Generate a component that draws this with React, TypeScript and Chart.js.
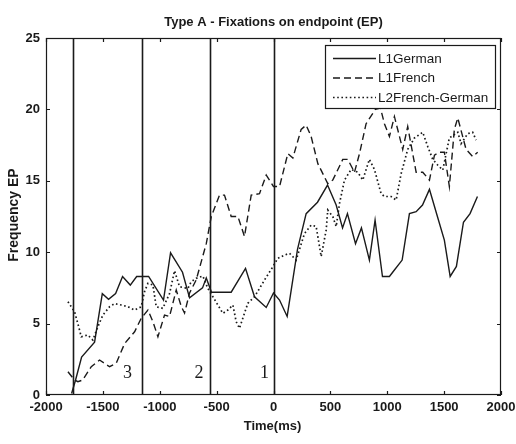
import React, { useEffect, useRef } from "react";
import { Chart, registerables } from "chart.js";

Chart.register(...registerables);

const chartTitle = "Type A - Fixations on endpoint (EP)";
const xAxisTitle = "Time(ms)";
const yAxisTitle = "Frequency EP";
const seriesNames = ["L1German", "L1French", "L2French-German"];

const germanTime = [-1775, -1740, -1687, -1573, -1505, -1450, -1388, -1327, -1259, -1203, -1098, -967, -905, -800, -738, -624, -591, -545, -372, -246, -167, -64, 0, 53, 120, 211, 287, 387, 475, 551, 607, 650, 721, 773, 843, 893, 958, 1019, 1063, 1131, 1195, 1254, 1310, 1371, 1441, 1502, 1553, 1608, 1670, 1728, 1793];
const germanFreq = [0.1, 1.05, 2.66, 3.7, 7.1, 6.7, 7.1, 8.3, 7.7, 8.3, 8.3, 6.65, 9.96, 8.6, 6.8, 7.5, 8.2, 7.2, 7.2, 8.87, 6.88, 6.13, 7.14, 6.65, 5.5, 10.2, 12.7, 13.5, 14.7, 13.3, 11.7, 12.7, 10.6, 11.7, 9.45, 12.25, 8.3, 8.3, 8.75, 9.45, 12.7, 12.84, 13.3, 14.4, 12.5, 10.85, 8.3, 9.0, 12.1, 12.7, 13.9];

const frenchTime = [-1807, -1749, -1720, -1678, -1602, -1529, -1441, -1382, -1309, -1221, -1163, -1104, -1060, -1016, -958, -914, -855, -811, -782, -738, -680, -591, -547, -475, -431, -372, -313, -255, -196, -123, -64, 0, 53, 126, 170, 243, 287, 331, 390, 477, 521, 609, 653, 712, 756, 814, 895, 940, 975, 1019, 1063, 1136, 1180, 1254, 1312, 1371, 1415, 1459, 1502, 1546, 1590, 1620, 1693, 1751, 1795];
const frenchFreq = [1.63, 1.05, 0.93, 1.05, 1.98, 2.45, 1.98, 2.24, 3.6, 4.43, 5.37, 5.95, 5.13, 4.08, 5.6, 5.5, 7.35, 6.2, 5.74, 7.14, 8.05, 10.6, 12.5, 14.0, 14.0, 12.5, 12.5, 11.1, 14.0, 14.1, 15.4, 14.6, 14.6, 16.9, 16.6, 18.6, 18.9, 18.1, 16.2, 14.8, 15.05, 16.5, 16.5, 15.6, 16.9, 19.0, 20.0, 20.1, 19.0, 18.1, 19.5, 17.2, 18.8, 15.6, 15.6, 15.05, 16.8, 17.0, 17.0, 14.6, 18.6, 19.4, 17.2, 16.7, 17.0];

const bilingualTime = [-1807, -1749, -1720, -1690, -1632, -1588, -1544, -1500, -1441, -1397, -1338, -1280, -1221, -1163, -1134, -1104, -1060, -1031, -973, -914, -870, -826, -753, -724, -680, -621, -577, -533, -445, -401, -357, -328, -299, -226, -167, -79, -6, 38, 97, 141, 199, 272, 331, 375, 419, 463, 477, 521, 551, 580, 624, 683, 741, 785, 843, 887, 946, 975, 1034, 1078, 1122, 1180, 1239, 1312, 1356, 1400, 1444, 1488, 1546, 1620, 1649, 1707, 1751, 1781];
const bilingualFreq = [6.53, 5.83, 5.0, 4.08, 4.2, 3.85, 4.78, 5.6, 6.18, 6.4, 6.3, 6.18, 5.95, 6.18, 7.23, 7.82, 7.7, 6.18, 6.07, 7.1, 8.7, 7.58, 7.46, 7.93, 8.17, 8.33, 7.46, 6.88, 5.72, 5.95, 6.3, 5.13, 4.67, 6.42, 6.88, 8.05, 8.98, 9.57, 9.8, 9.92, 9.45, 11.3, 11.9, 11.8, 9.7, 11.55, 12.95, 12.5, 11.8, 13.4, 15.05, 15.8, 15.6, 15.05, 16.5, 15.8, 14.1, 13.9, 13.9, 13.65, 15.5, 17.2, 18.0, 18.4, 17.4, 16.5, 16.1, 15.75, 18.0, 18.4, 17.6, 18.3, 18.4, 17.85];

const phaseLineTimes = [-1760, -1160, -560, 0];
const phaseLabels = ["3", "2", "1"];
const phaseLabelTimes = [-1283, -656, -79];
const phaseLabelFreq = 1.52;

const X_MIN = -2000, X_MAX = 2000, X_STEP = 500;
const Y_MIN = 0, Y_MAX = 25, Y_STEP = 5;

const INK = "#1a1a1a";
const dashStyles: number[][] = [[], [7, 4], [1.6, 2.6]];
const widths = [1.4, 1.4, 1.7];

function zip(xs: number[], ys: number[]) {
  return xs.map((x, i) => ({ x, y: ys[i] }));
}

const decorPlugin = {
  id: "decor",
  beforeDatasetsDraw(chart: any) {
    const { ctx, chartArea } = chart;
    const xs = chart.scales.x;
    const ys = chart.scales.y;
    ctx.save();
    ctx.strokeStyle = INK;
    ctx.lineWidth = 1.6;
    phaseLineTimes.forEach((t) => {
      const px = Math.round(xs.getPixelForValue(t)) + 0.5;
      ctx.beginPath();
      ctx.moveTo(px, chartArea.top);
      ctx.lineTo(px, chartArea.bottom);
      ctx.stroke();
    });
    ctx.fillStyle = INK;
    ctx.font = '18px "Liberation Serif"';
    ctx.textAlign = "center";
    ctx.textBaseline = "middle";
    phaseLabels.forEach((lab, i) => {
      ctx.fillText(lab, xs.getPixelForValue(phaseLabelTimes[i]), ys.getPixelForValue(phaseLabelFreq));
    });
    ctx.restore();
  },
  afterDraw(chart: any) {
    const { ctx, chartArea } = chart;
    const { left, right, top, bottom } = chartArea;
    ctx.save();
    ctx.strokeStyle = INK;
    ctx.lineWidth = 1.2;
    ctx.setLineDash([]);
    ctx.strokeRect(left + 0.5, top + 0.5, right - left - 1, bottom - top - 1);
    const tl = 4;
    chart.scales.x.ticks.forEach((tk: any) => {
      const px = Math.round(chart.scales.x.getPixelForValue(tk.value)) + 0.5;
      ctx.beginPath();
      ctx.moveTo(px, bottom);
      ctx.lineTo(px, bottom - tl);
      ctx.moveTo(px, top);
      ctx.lineTo(px, top + tl);
      ctx.stroke();
    });
    chart.scales.y.ticks.forEach((tk: any) => {
      const py = Math.round(chart.scales.y.getPixelForValue(tk.value)) + 0.5;
      ctx.beginPath();
      ctx.moveTo(left, py);
      ctx.lineTo(left + tl, py);
      ctx.moveTo(right, py);
      ctx.lineTo(right - tl, py);
      ctx.stroke();
    });

    // title and axis titles
    ctx.fillStyle = INK;
    ctx.font = 'bold 13px "Liberation Sans"';
    ctx.textAlign = "center";
    ctx.textBaseline = "middle";
    ctx.fillText(chartTitle, (left + right) / 2, 22);
    ctx.fillText(xAxisTitle, (left + right) / 2 - 1, 426);
    ctx.save();
    ctx.font = 'bold 14px "Liberation Sans"';
    ctx.translate(14, 215);
    ctx.rotate(-Math.PI / 2);
    ctx.fillText(yAxisTitle, 0, 0);
    ctx.restore();

    // legend
    const bx = 325, by = 45, bw = 170, bh = 63;
    ctx.fillStyle = "#ffffff";
    ctx.fillRect(bx, by, bw, bh);
    ctx.lineWidth = 1.2;
    ctx.strokeStyle = INK;
    ctx.strokeRect(bx + 0.5, by + 0.5, bw, bh);
    ctx.font = '13.5px "Liberation Sans"';
    ctx.textAlign = "left";
    ctx.textBaseline = "middle";
    seriesNames.forEach((name, i) => {
      const y = by + 13.5 + i * 19.5;
      ctx.beginPath();
      ctx.setLineDash(dashStyles[i]);
      ctx.lineWidth = widths[i];
      ctx.moveTo(333, y);
      ctx.lineTo(376, y);
      ctx.stroke();
      ctx.setLineDash([]);
      ctx.fillStyle = INK;
      ctx.fillText(name, 378, y + 0.5);
    });
    ctx.restore();
  },
};

export default function App() {
  const ref = useRef<HTMLCanvasElement | null>(null);
  useEffect(() => {
    document.body.style.margin = "0";
    const canvas = ref.current;
    if (!canvas) return;
    const seriesX = [germanTime, frenchTime, bilingualTime];
    const seriesY = [germanFreq, frenchFreq, bilingualFreq];
    const tickFont = { family: "Liberation Sans", size: 13, weight: "bold" };
    const chart = new Chart(canvas, {
      type: "line",
      data: {
        datasets: seriesNames.map((name, i) => ({
          label: name,
          data: zip(seriesX[i], seriesY[i]),
          borderColor: INK,
          borderWidth: widths[i],
          borderDash: dashStyles[i],
          pointRadius: 0,
          tension: 0,
          fill: false,
        })),
      },
      options: {
        animation: false,
        responsive: false,
        devicePixelRatio: 1,
        layout: { padding: { top: 38, right: 15, left: 0, bottom: 0 } },
        plugins: {
          legend: { display: false },
          title: { display: false },
          tooltip: { enabled: false },
        },
        scales: {
          x: {
            type: "linear",
            min: X_MIN,
            max: X_MAX,
            grid: { display: false, drawTicks: false },
            border: { display: false },
            ticks: {
              stepSize: X_STEP,
              padding: 5,
              color: INK,
              font: tickFont,
              maxRotation: 0,
              autoSkip: false,
              callback: (v: any) => String(v),
            },
            afterFit: (s: any) => {
              s.height = 49;
              s.paddingLeft = 0;
              s.paddingRight = 0;
            },
          },
          y: {
            type: "linear",
            min: Y_MIN,
            max: Y_MAX,
            grid: { display: false, drawTicks: false },
            border: { display: false },
            ticks: {
              stepSize: Y_STEP,
              padding: 6,
              color: INK,
              font: tickFont,
              callback: (v: any) => String(v),
            },
            afterFit: (s: any) => {
              s.width = 46;
              s.paddingTop = 0;
              s.paddingBottom = 0;
            },
          },
        },
      },
      plugins: [decorPlugin],
    } as any);
    return () => chart.destroy();
  }, []);
  return (
    <div style={{ width: 516, height: 444, background: "#fff" }}>
      <canvas ref={ref} width={516} height={444} style={{ display: "block", width: 516, height: 444 }} />
    </div>
  );
}
